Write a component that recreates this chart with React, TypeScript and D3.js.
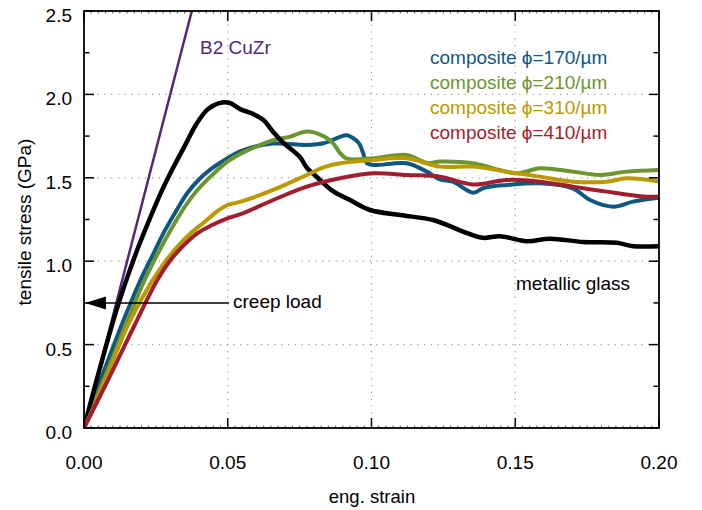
import React from "react";
import * as d3 from "d3";

const xTicks = [0, 0.05, 0.1, 0.15, 0.2];
const yTicks = [0, 0.5, 1.0, 1.5, 2.0, 2.5];
const yMinor = [0.25, 0.75, 1.25, 1.75, 2.25];

const purple: [number, number][] = [[0, 0], [0.0375, 2.5]];

const black: [number, number][] = [
  [0, 0], [0.0035, 0.23], [0.007, 0.45], [0.011, 0.69], [0.015, 0.9], [0.019, 1.09],
  [0.023, 1.26], [0.027, 1.42], [0.031, 1.56], [0.035, 1.69], [0.039, 1.82],
  [0.043, 1.91], [0.047, 1.948], [0.0505, 1.95], [0.0545, 1.91], [0.0585, 1.885],
  [0.0625, 1.845], [0.0658, 1.775], [0.069, 1.715], [0.0751, 1.625], [0.0775, 1.56],
  [0.081, 1.505], [0.0866, 1.42], [0.0925, 1.367], [0.0995, 1.307], [0.11, 1.277],
  [0.1214, 1.247], [0.1273, 1.21], [0.133, 1.17], [0.1388, 1.14], [0.1447, 1.15],
  [0.154, 1.12], [0.162, 1.135], [0.1736, 1.115], [0.1854, 1.11], [0.191, 1.09], [0.2, 1.09],
];

const blue: [number, number][] = [
  [0, 0], [0.004, 0.2], [0.008, 0.39], [0.012, 0.57], [0.016, 0.74], [0.02, 0.9],
  [0.024, 1.04], [0.028, 1.18], [0.032, 1.3], [0.036, 1.41], [0.04, 1.49],
  [0.044, 1.55], [0.0499, 1.617], [0.0545, 1.66], [0.0658, 1.705], [0.0775, 1.697],
  [0.0833, 1.707], [0.089, 1.745], [0.0914, 1.755], [0.0955, 1.71], [0.0971, 1.647],
  [0.0983, 1.59], [0.1006, 1.577], [0.1122, 1.587], [0.1192, 1.537], [0.1238, 1.49],
  [0.1283, 1.477], [0.1354, 1.41], [0.139, 1.439], [0.147, 1.457], [0.1586, 1.467],
  [0.170, 1.437], [0.176, 1.367], [0.184, 1.327], [0.191, 1.357], [0.2, 1.38],
];

const green: [number, number][] = [
  [0, 0], [0.004, 0.17], [0.0081, 0.34], [0.0139, 0.59], [0.0209, 0.88],
  [0.0255, 1.04], [0.0301, 1.185], [0.0348, 1.32], [0.0394, 1.425], [0.044, 1.507],
  [0.0499, 1.597], [0.0545, 1.645], [0.0658, 1.725], [0.0717, 1.747], [0.0775, 1.777],
  [0.0833, 1.75], [0.0867, 1.707], [0.089, 1.65], [0.0914, 1.615], [0.1006, 1.617],
  [0.1122, 1.637], [0.1192, 1.59], [0.1238, 1.597], [0.1354, 1.587], [0.1505, 1.527],
  [0.1586, 1.557], [0.170, 1.537], [0.1795, 1.517], [0.1888, 1.537], [0.2, 1.547],
];

const yellow: [number, number][] = [
  [0, 0], [0.0035, 0.13], [0.0093, 0.37], [0.0151, 0.61], [0.0232, 0.867],
  [0.0278, 0.987], [0.0325, 1.087], [0.0371, 1.167], [0.0417, 1.232], [0.0464, 1.3],
  [0.0499, 1.337], [0.0545, 1.357], [0.0658, 1.427], [0.0775, 1.517], [0.0833, 1.562],
  [0.089, 1.587], [0.1006, 1.607], [0.1122, 1.617], [0.1238, 1.567], [0.1354, 1.567],
  [0.1505, 1.527], [0.1586, 1.507], [0.170, 1.477], [0.1818, 1.477], [0.1888, 1.497],
  [0.2, 1.477],
];

const red: [number, number][] = [
  [0, 0], [0.0035, 0.12], [0.0104, 0.36], [0.0174, 0.61], [0.0255, 0.887],
  [0.0301, 1.007], [0.0348, 1.097], [0.0394, 1.167], [0.044, 1.212], [0.0499, 1.257],
  [0.0545, 1.282], [0.0658, 1.367], [0.0775, 1.447], [0.089, 1.497], [0.1006, 1.527],
  [0.1122, 1.517], [0.1238, 1.507], [0.1354, 1.46], [0.147, 1.487], [0.1586, 1.477],
  [0.170, 1.447], [0.1818, 1.417], [0.1934, 1.39], [0.2, 1.387],
];

const legendLabels = ["composite ϕ=170/µm", "composite ϕ=210/µm", "composite ϕ=310/µm", "composite ϕ=410/µm"];
const colors = { purple: "#55267a", blue: "#0e5880", green: "#6c9530", yellow: "#bb9900", red: "#a01e2e" };

export default function App() {
  const W = 702, H = 510;
  const L = 84, R = 659, T = 11, B = 428;
  const x = d3.scaleLinear().domain([0, 0.2]).range([L, R]);
  const y = d3.scaleLinear().domain([0, 2.5]).range([B, T]);
  const line = d3.line<[number, number]>().x(d => x(d[0])).y(d => y(d[1])).curve(d3.curveCatmullRom.alpha(0.5));
  const lin = d3.line<[number, number]>().x(d => x(d[0])).y(d => y(d[1]));
  const font = "'Liberation Sans', Arial, Helvetica, sans-serif";
  const xMinor = d3.range(0, 0.2001, 0.0025);
  const legendColors = [colors.blue, colors.green, colors.yellow, colors.red];

  return (
    <svg width={W} height={H} style={{ position: "absolute", left: 0, top: 0, background: "#fff" }} fontFamily={font}>
      <defs>
        <clipPath id="plot"><rect x={L} y={T} width={R - L} height={B - T} /></clipPath>
      </defs>
      {xTicks.slice(1, -1).map(t => (
        <line key={"gx" + t} x1={x(t)} x2={x(t)} y1={T} y2={B} stroke="#9a9a9a" strokeWidth={1.2} strokeDasharray="1.2,5.6" />
      ))}
      {yTicks.slice(1, -1).map(t => (
        <line key={"gy" + t} x1={L} x2={R} y1={y(t)} y2={y(t)} stroke="#9a9a9a" strokeWidth={1.2} strokeDasharray="1.2,5.6" />
      ))}
      <g clipPath="url(#plot)" fill="none" strokeLinejoin="round" strokeLinecap="round">
        <path d={lin(purple)!} stroke={colors.purple} strokeWidth={2.5} />
        <path d={line(blue)!} stroke={colors.blue} strokeWidth={4} />
        <path d={line(green)!} stroke={colors.green} strokeWidth={4} />
        <path d={line(black)!} stroke="#000" strokeWidth={4.5} />
        <path d={line(yellow)!} stroke={colors.yellow} strokeWidth={4} />
        <path d={line(red)!} stroke={colors.red} strokeWidth={4} />
      </g>
      {xTicks.map(t => (
        <g key={"xt" + t}>
          <line x1={x(t)} x2={x(t)} y1={B} y2={B - 10} stroke="#000" strokeWidth={1.5} />
          <line x1={x(t)} x2={x(t)} y1={T} y2={T + 10} stroke="#000" strokeWidth={1.5} />
          <text x={x(t)} y={469} fontSize={19} textAnchor="middle">{t.toFixed(2)}</text>
        </g>
      ))}
      {xMinor.map((t, i) => (
        <g key={"xm" + i}>
          <line x1={x(t)} x2={x(t)} y1={B} y2={B - 2.5} stroke="#333" strokeWidth={0.8} />
          <line x1={x(t)} x2={x(t)} y1={T} y2={T + 2.5} stroke="#333" strokeWidth={0.8} />
        </g>
      ))}
      {yTicks.map(t => (
        <g key={"yt" + t}>
          <line x1={L} x2={L + 10} y1={y(t)} y2={y(t)} stroke="#000" strokeWidth={1.5} />
          <line x1={R} x2={R - 10} y1={y(t)} y2={y(t)} stroke="#000" strokeWidth={1.5} />
          <text x={72} y={y(t) + 11} fontSize={19} textAnchor="end">{t.toFixed(1)}</text>
        </g>
      ))}
      {yMinor.map(t => (
        <g key={"ym" + t}>
          <line x1={L} x2={L + 5.5} y1={y(t)} y2={y(t)} stroke="#000" strokeWidth={1.5} />
          <line x1={R} x2={R - 5.5} y1={y(t)} y2={y(t)} stroke="#000" strokeWidth={1.5} />
        </g>
      ))}
      <rect x={L} y={T} width={R - L} height={B - T} fill="none" stroke="#000" strokeWidth={1.8} />
      <text x={372} y={503} fontSize={18.5} textAnchor="middle">eng. strain</text>
      <text transform={`translate(31,222) rotate(-90)`} fontSize={19} textAnchor="middle">tensile stress (GPa)</text>
      <text x={200} y={54} fontSize={19} fill={colors.purple}>B2 CuZr</text>
      <text x={516} y={290} fontSize={19} fill="#000">metallic glass</text>
      <text x={233} y={308} fontSize={19} fill="#000">creep load</text>
      <line x1={229} x2={100} y1={y(0.75)} y2={y(0.75)} stroke="#000" strokeWidth={1.5} />
      <path d={`M${L + 1},${y(0.75)} L${L + 22},${y(0.75) - 6.5} L${L + 22},${y(0.75) + 6.5} Z`} fill="#000" />
      {legendLabels.map((s, i) => (
        <text key={s} x={430} y={64 + i * 25} fontSize={19} fill={legendColors[i]}>{s}</text>
      ))}
    </svg>
  );
}
